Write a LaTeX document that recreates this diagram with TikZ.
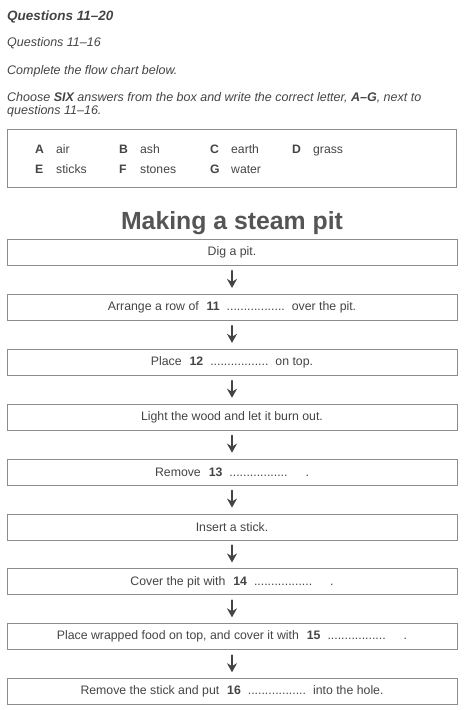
\documentclass[tikz,border=0pt]{standalone}
\usepackage{fontspec}
\setmainfont{Liberation Sans}
\usetikzlibrary{positioning, arrows.meta}
\definecolor{inkgray}{HTML}{444444}
\definecolor{titlegray}{HTML}{555555}
\definecolor{framegray}{HTML}{8C8C8C}
\newcommand{\answerslot}[1]{\hspace{4.5pt}\textbf{#1}\hspace{7pt}.................}
\tikzset{
  stepbox/.style={draw=framegray, line width=0.9pt, minimum width=450pt,
    minimum height=26pt, inner sep=0pt, text=inkgray,
    font=\fontsize{12.3}{14}\selectfont},
  flowarrow/.style={->, line width=2pt, draw=inkgray,
    shorten <=5pt, shorten >=6pt},
  intro/.style={anchor=base west, inner sep=0pt, text=inkgray,
    font=\itshape\fontsize{12.5}{15}\selectfont},
  optletter/.style={anchor=base west, inner sep=0pt, text=inkgray,
    font=\bfseries\fontsize{12.2}{14}\selectfont},
  optword/.style={anchor=base west, inner sep=0pt, text=inkgray,
    font=\fontsize{12.2}{14}\selectfont},
}

\begin{document}
\begin{tikzpicture}[x=1pt, y=-1pt, line cap=round,
    >={Stealth[length=9pt,width=10pt]}, node distance=28pt]

  \useasboundingbox (0,0) rectangle (465,710);

  %--- intestazione
  \node[intro, font=\bfseries\itshape\fontsize{13.5}{16}\selectfont] (head) at (7,20) {Questions 11--20};
  \node[intro] (sub) at (7,46) {Questions 11--16};
  \node[intro] (task) at (7,74) {Complete the flow chart below.};
  \node[intro] (choose1) at (7,101) {Choose \textbf{SIX} answers from the box and write the correct letter, \textbf{A--G}, next to};
  \node[intro] (choose2) at (7,114) {questions 11--16.};

  %--- riquadro con le opzioni
  \node[draw=framegray, line width=0.9pt, minimum width=449pt, minimum height=58pt,
    inner sep=0pt] (optbox) at (231.5,158) {};
  \node[optletter] (la) at (35,153) {A};  \node[optword] (wa) at (56,153) {air};
  \node[optletter] (lb) at (119,153) {B}; \node[optword] (wb) at (140,153) {ash};
  \node[optletter] (lc) at (210,153) {C}; \node[optword] (wc) at (231,153) {earth};
  \node[optletter] (ld) at (292,153) {D}; \node[optword] (wd) at (313,153) {grass};
  \node[optletter] (le) at (35,173) {E};  \node[optword] (we) at (56,173) {sticks};
  \node[optletter] (lf) at (119,173) {F}; \node[optword] (wf) at (140,173) {stones};
  \node[optletter] (lg) at (210,173) {G}; \node[optword] (wg) at (231,173) {water};

  %--- titolo
  \node[anchor=base, inner sep=0pt, text=titlegray,
    font=\bfseries\fontsize{24.8}{28}\selectfont] (title) at (232,229) {Making a steam pit};

  %--- diagramma di flusso
  \node[stepbox] (s1) at (232,252.5) {Dig a pit.};
  \node[stepbox, below=of s1] (s2) {Arrange a row of \answerslot{11}\hspace{2.5pt} over the pit.};
  \node[stepbox, below=of s2] (s3) {Place \answerslot{12}\hspace{2.5pt} on top.};
  \node[stepbox, below=of s3] (s4) {Light the wood and let it burn out.};
  \node[stepbox, below=of s4] (s5) {Remove \answerslot{13}\hspace{18pt}.};
  \node[stepbox, below=of s5] (s6) {Insert a stick.};
  \node[stepbox, below=of s6] (s7) {Cover the pit with \answerslot{14}\hspace{18pt}.};
  \node[stepbox, below=of s7] (s8) {Place wrapped food on top, and cover it with \answerslot{15}\hspace{18pt}.};
  \node[stepbox, below=of s8] (s9) {Remove the stick and put \answerslot{16}\hspace{2.5pt} into the hole.};

  %--- frecce
  \draw[flowarrow] (s1) -- (s2);
  \draw[flowarrow] (s2) -- (s3);
  \draw[flowarrow] (s3) -- (s4);
  \draw[flowarrow] (s4) -- (s5);
  \draw[flowarrow] (s5) -- (s6);
  \draw[flowarrow] (s6) -- (s7);
  \draw[flowarrow] (s7) -- (s8);
  \draw[flowarrow] (s8) -- (s9);
\end{tikzpicture}
\end{document}
